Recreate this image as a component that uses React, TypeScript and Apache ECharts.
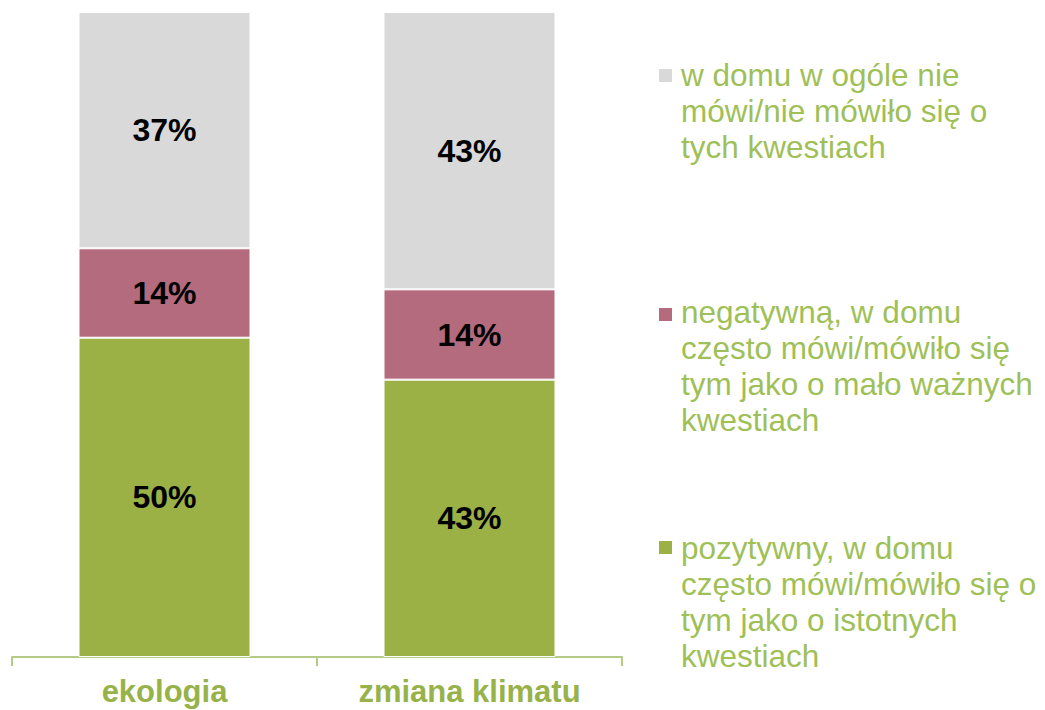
import React, { useEffect, useRef } from "react";
import * as echarts from "echarts";

const categories = ["ekologia", "zmiana klimatu"];
const seriesNames = [
  "pozytywny, w domu często mówi/mówiło się o tym jako o istotnych kwestiach",
  "negatywną, w domu często mówi/mówiło się tym jako o mało ważnych kwestiach",
  "w domu w ogóle nie mówi/nie mówiło się o tych kwestiach",
];
const legendLines = [
  ["pozytywny, w domu", "często mówi/mówiło się o", "tym jako o istotnych", "kwestiach"],
  ["negatywną, w domu", "często mówi/mówiło się", "tym jako o mało ważnych", "kwestiach"],
  ["w domu w ogóle nie", "mówi/nie mówiło się o", "tych kwestiach"],
];
const positiveValues = [50, 43];
const negativeValues = [14, 14];
const noneValues = [37, 43];
const colors = ["#9BB145", "#B36B7D", "#D9D9D9"];

export default function App() {
  const ref = useRef<HTMLDivElement>(null);
  useEffect(() => {
    document.body.style.margin = "0";
    const chart = echarts.init(ref.current!, null, { renderer: "svg" });
    const raw = [positiveValues, negativeValues, noneValues];
    const totals = categories.map((_, i) => raw.reduce((s, arr) => s + arr[i], 0));
    const legendPos = [530, 294, 57];
    const markerPos = [541, 308, 69];
    const graphic: any[] = [];
    seriesNames.forEach((_, k) => {
      graphic.push({
        type: "rect",
        left: 659,
        top: markerPos[k],
        shape: { width: 13, height: 13 },
        style: { fill: colors[k] },
      });
      graphic.push({
        type: "text",
        left: 681,
        top: legendPos[k],
        style: {
          text: legendLines[k].join("\n"),
          font: "31.5px 'Liberation Sans', Arial, sans-serif",
          lineHeight: 36,
          fill: "#9FBF57",
        },
      });
    });
    chart.setOption({
      animation: false,
      grid: { left: 12, right: 423, top: 12, bottom: 53 },
      xAxis: {
        type: "category",
        data: categories,
        axisLine: { lineStyle: { color: "#B4CB88", width: 2 } },
        axisTick: { show: true, length: 9, lineStyle: { color: "#B4CB88", width: 2 } },
        axisLabel: {
          color: "#98B24A",
          fontSize: 31,
          fontWeight: "bold",
          fontFamily: "'Liberation Sans', Arial, sans-serif",
          margin: 19,
        },
      },
      yAxis: {
        type: "value",
        min: 0,
        max: 100,
        show: false,
        splitLine: { show: false },
      },
      series: raw.map((arr, k) => ({
        name: seriesNames[k],
        type: "bar",
        stack: "total",
        barWidth: 172,
        data: arr.map((v, i) => ({ value: (v / totals[i]) * 100, raw: v })),
        itemStyle: { color: colors[k], borderColor: "#FFFFFF", borderWidth: 1 },
        label: {
          show: true,
          position: "inside",
          formatter: (p: any) => `${p.data.raw}%`,
          color: "#000000",
          fontSize: 32,
          fontWeight: "bold",
          fontFamily: "'Liberation Sans', Arial, sans-serif",
        },
      })),
      graphic,
    });
    return () => chart.dispose();
  }, []);
  return <div ref={ref} style={{ width: 1045, height: 710 }} />;
}
